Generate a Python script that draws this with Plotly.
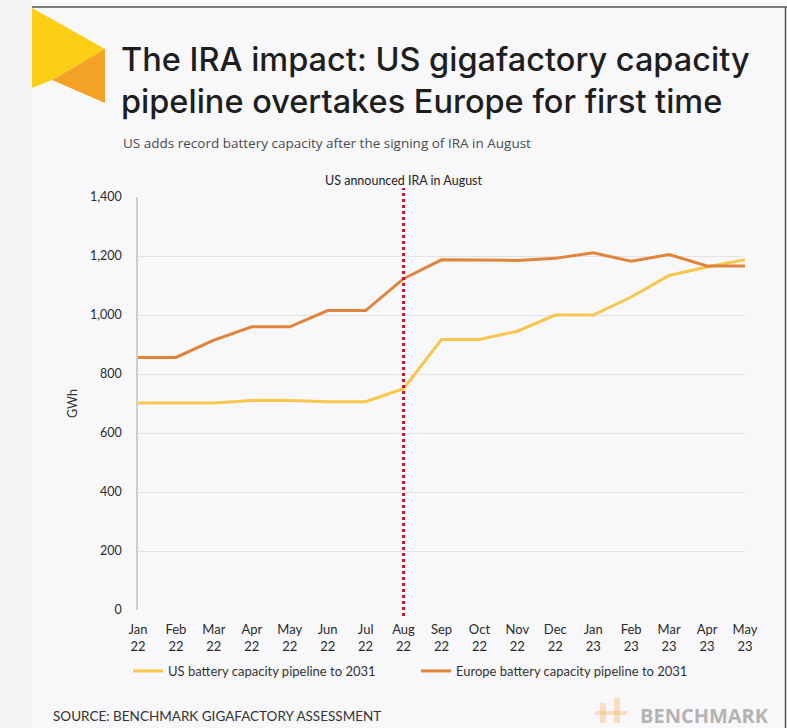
import plotly.graph_objects as go

months = ["Jan<br>22", "Feb<br>22", "Mar<br>22", "Apr<br>22", "May<br>22", "Jun<br>22", "Jul<br>22",
          "Aug<br>22", "Sep<br>22", "Oct<br>22", "Nov<br>22", "Dec<br>22", "Jan<br>23", "Feb<br>23",
          "Mar<br>23", "Apr<br>23", "May<br>23"]
us_gwh = [702, 702, 702, 710, 710, 706, 706, 750, 917, 917, 945, 1000, 1000, 1061, 1134, 1163, 1187]
europe_gwh = [856, 856, 915, 960, 960, 1015, 1015, 1123, 1187, 1185, 1185, 1192, 1211, 1182, 1205, 1166, 1166]
y_ticks = [0, 200, 400, 600, 800, 1000, 1200, 1400]
ira_month_index = 7

W, H = 787, 728
L, R, T, B = 138, 745, 197, 610


def px(x):
    return (x - L) / (R - L)


def py(y):
    return (B - y) / (B - T)


FONT = "Lato"
fig = go.Figure()
fig.add_trace(go.Scatter(x=months, y=us_gwh, mode="lines", name="US battery capacity pipeline to 2031",
                         line=dict(color="#F8C64A", width=3)))
fig.add_trace(go.Scatter(x=months, y=europe_gwh, mode="lines", name="Europe battery capacity pipeline to 2031",
                         line=dict(color="#E0843C", width=3)))

shapes = []
# left outer strip
shapes.append(dict(type="rect", xref="paper", yref="paper", x0=px(0), x1=px(32), y0=py(H), y1=py(0),
                   fillcolor="#f3f3f3", line=dict(width=0), layer="below"))
# card top border and right edge
shapes.append(dict(type="line", xref="paper", yref="paper", x0=px(32), x1=px(787), y0=py(7), y1=py(7),
                   line=dict(color="#555555", width=1.5)))
shapes.append(dict(type="line", xref="paper", yref="paper", x0=px(785.5), x1=px(785.5), y0=py(7), y1=py(H),
                   line=dict(color="#555555", width=1.5)))
# logo
shapes.append(dict(type="path", xref="paper", yref="paper",
                   path=f"M {px(32)} {py(8)} L {px(105)} {py(49)} L {px(52)} {py(80)} L {px(32)} {py(88)} Z",
                   fillcolor="#FCCF14", line=dict(width=0)))
shapes.append(dict(type="path", xref="paper", yref="paper",
                   path=f"M {px(105)} {py(49)} L {px(105)} {py(103)} L {px(52)} {py(80)} Z",
                   fillcolor="#F3A227", line=dict(width=0)))
# IRA dotted line
shapes.append(dict(type="line", xref="x", yref="paper", x0=ira_month_index, x1=ira_month_index,
                   y0=py(616), y1=py(188), line=dict(color="#C8142E", width=3, dash="dot")))
# benchmark icon (faint)
shapes.append(dict(type="rect", xref="paper", yref="paper", x0=px(600), x1=px(606), y0=py(723), y1=py(703),
                   fillcolor="rgba(245,175,90,0.35)", line=dict(width=0)))
shapes.append(dict(type="rect", xref="paper", yref="paper", x0=px(614), x1=px(620), y0=py(723), y1=py(698),
                   fillcolor="rgba(245,175,90,0.35)", line=dict(width=0)))
shapes.append(dict(type="rect", xref="paper", yref="paper", x0=px(595), x1=px(627), y0=py(715), y1=py(711),
                   fillcolor="rgba(245,175,90,0.35)", line=dict(width=0)))

annotations = [
    dict(text="The IRA impact: US gigafactory capacity<br>pipeline overtakes Europe for first time",
         x=px(119), y=py(81), xref="paper", yref="paper", xanchor="left", yanchor="middle",
         showarrow=False, align="left",
         font=dict(family="Inter", size=32.5, color="#1e1e1e", weight=500)),
    dict(text="US adds record battery capacity after the signing of IRA in August",
         x=px(121), y=py(143), xref="paper", yref="paper", xanchor="left", yanchor="middle",
         showarrow=False, font=dict(family="Open Sans", size=13.5, color="#4a4a4a")),
    dict(text="US announced IRA in August", x=ira_month_index, y=py(180), xref="x", yref="paper",
         xanchor="center", yanchor="middle", showarrow=False,
         font=dict(family=FONT, size=12.5, color="#222222")),
    dict(text="SOURCE: BENCHMARK GIGAFACTORY ASSESSMENT", x=px(51), y=py(716), xref="paper", yref="paper",
         xanchor="left", yanchor="middle", showarrow=False,
         font=dict(family=FONT, size=13.5, color="#333333")),
    dict(text="<b>BENCHMARK</b>", x=px(771), y=py(715), xref="paper", yref="paper",
         xanchor="right", yanchor="middle", showarrow=False,
         font=dict(family="Open Sans", size=20, color="#b4b4b4")),
]

fig.update_layout(
    width=W, height=H,
    margin=dict(l=L, r=W - R, t=T, b=H - B, pad=0),
    paper_bgcolor="#f8f8fa", plot_bgcolor="#f8f8fa",
    font=dict(family=FONT, size=12.5, color="#333333"),
    shapes=shapes, annotations=annotations,
    showlegend=True,
    legend=dict(orientation="h", x=px(128), y=py(671), xanchor="left", yanchor="middle",
                entrywidth=243, entrywidthmode="pixels", bgcolor="rgba(0,0,0,0)",
                font=dict(family=FONT, size=13, color="#333333"), itemwidth=30),
)
fig.update_xaxes(type="category", range=[0, len(months) - 1], showgrid=False, zeroline=False,
                 showline=False, ticks="", ticklabelstandoff=10,
                 tickfont=dict(family=FONT, size=13, color="#2a2a2a"))
fig.update_yaxes(range=[0, 1400], tickvals=y_ticks, tickformat=",", showgrid=True, gridcolor="#e3e3e6",
                 gridwidth=1, zeroline=False, showline=True, linecolor="#cfcfd3", linewidth=1.5,
                 ticks="", ticklabelstandoff=12, tickfont=dict(family=FONT, size=12.5, color="#2a2a2a"),
                 title=dict(text="GWh", standoff=10, font=dict(family=FONT, size=12.5, color="#333333")))

fig.write_html("out.html", config={"displayModeBar": False},
               post_script="document.body.style.margin='0';document.body.style.overflow='hidden';")
